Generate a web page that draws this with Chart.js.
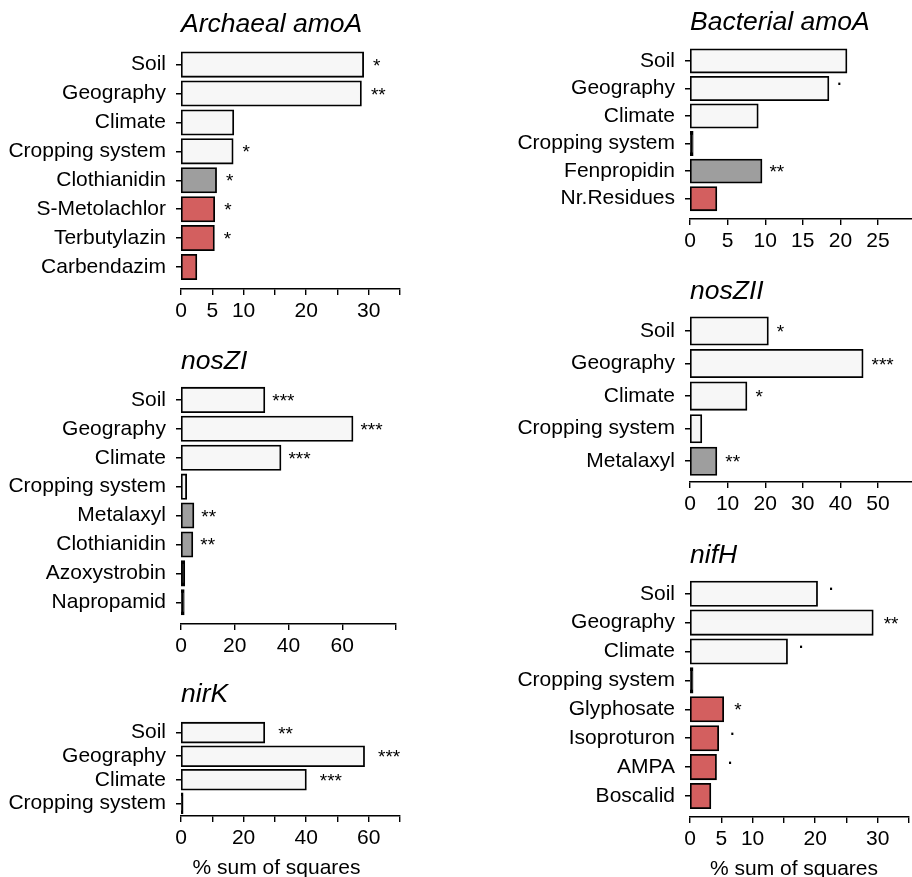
<!DOCTYPE html>
<html><head><meta charset="utf-8">
<script src="https://cdn.jsdelivr.net/npm/chart.js@4.4.1/dist/chart.umd.min.js"></script>
<style>
html,body{margin:0;padding:0;background:#fff;width:912px;height:877px;overflow:hidden;position:relative}
canvas{position:absolute;display:block}
</style></head><body>
<canvas id="c1"></canvas><canvas id="c2"></canvas><canvas id="c3"></canvas>
<canvas id="c4"></canvas><canvas id="c5"></canvas><canvas id="c6"></canvas>
<script>
// ---------- DATA ----------
const aaLabels = ["Soil","Geography","Climate","Cropping system","Clothianidin","S-Metolachlor","Terbutylazin","Carbendazim"];
const aaValues = [29.1, 28.75, 8.35, 8.25, 5.6, 5.3, 5.25, 2.45];
const aaGroups = ["env","env","env","env","grey","red","red","red"];
const aaSig    = ["*","**","","*","*","*","*",""];
const aaTicks  = [0,5,10,20,30];

const baLabels = ["Soil","Geography","Climate","Cropping system","Fenpropidin","Nr.Residues"];
const baValues = [20.8, 18.4, 9.0, 0.35, 9.5, 3.5];
const baGroups = ["env","env","env","env","grey","red"];
const baSig    = ["",".","","","**",""];
const baTicks  = [0,5,10,15,20,25];

const nz1Labels = ["Soil","Geography","Climate","Cropping system","Metalaxyl","Clothianidin","Azoxystrobin","Napropamid"];
const nz1Values = [31.0, 63.8, 37.0, 1.9, 4.6, 4.2, 1.2, 1.0];
const nz1Groups = ["env","env","env","env","grey","grey","grey","red"];
const nz1Sig    = ["***","***","***","","**","**","",""];
const nz1Ticks  = [0,20,40,60];

const nz2Labels = ["Soil","Geography","Climate","Cropping system","Metalaxyl"];
const nz2Values = [20.7, 45.9, 15.0, 3.0, 7.0];
const nz2Groups = ["env","env","env","env","grey"];
const nz2Sig    = ["*","***","*","","**"];
const nz2Ticks  = [0,10,20,30,40,50];

const nkLabels = ["Soil","Geography","Climate","Cropping system"];
const nkValues = [26.6, 58.5, 39.9, 0.5];
const nkGroups = ["env","env","env","env"];
const nkSig    = ["**","***","***",""];
const nkTicks  = [0,20,40,60];

const nhLabels = ["Soil","Geography","Climate","Cropping system","Glyphosate","Isoproturon","AMPA","Boscalid"];
const nhValues = [20.3, 29.2, 15.5, 0.4, 5.3, 4.5, 4.15, 3.25];
const nhGroups = ["env","env","env","env","red","red","red","red"];
const nhSig    = [".","**",".","","*",".",".",""];
const nhTicks  = [0,5,10,20,30];

const axisTitle = "% sum of squares";

// ---------- STYLE / LAYOUT ----------
const FONT = '"Liberation Sans", Arial, Helvetica, sans-serif';
const groupColors = {env:"#f7f7f7", grey:"#9e9e9e", red:"#d35f5f"};
Chart.defaults.font.family = FONT;
Chart.defaults.color = "#000";

const panels = [
  {id:"c1", title:"Archaeal amoA", labels:aaLabels, values:aaValues, groups:aaGroups, sig:aaSig, shown:aaTicks,
   xMax:35, xStep:5, left:0, plotLeft:181, plotRight:400, titleY:25.3, top:43, bottom:289.3, m:0.761, gap:10},
  {id:"c2", title:"Bacterial amoA", labels:baLabels, values:baValues, groups:baGroups, sig:baSig, shown:baTicks,
   xMax:30, xStep:5, left:460, plotLeft:690, plotRight:915.6, titleY:23, top:40.7, bottom:219, m:0.737, gap:8},
  {id:"c3", title:"nosZI", labels:nz1Labels, values:nz1Values, groups:nz1Groups, sig:nz1Sig, shown:nz1Ticks,
   xMax:80, xStep:20, left:0, plotLeft:181, plotRight:396, titleY:362, top:378.3, bottom:624, m:0.75, gap:8},
  {id:"c4", title:"nosZII", labels:nz2Labels, values:nz2Values, groups:nz2Groups, sig:nz2Sig, shown:nz2Ticks,
   xMax:60, xStep:10, left:460, plotLeft:690, plotRight:915.6, titleY:292, top:310.3, bottom:481.7, m:0.637, gap:9},
  {id:"c5", title:"nirK", labels:nkLabels, values:nkValues, groups:nkGroups, sig:nkSig, shown:nkTicks,
   xMax:70, xStep:10, left:0, plotLeft:181, plotRight:400, titleY:695, top:720, bottom:816, m:0.54, gap:14, axisTitle:true, atDx:-14},
  {id:"c6", title:"nifH", labels:nhLabels, values:nhValues, groups:nhGroups, sig:nhSig, shown:nhTicks,
   xMax:35, xStep:5, left:460, plotLeft:690, plotRight:909, titleY:555.5, top:572.3, bottom:816.7, m:0.727, gap:11, axisTitle:true, atDx:-5.5}
];

const sigPlugin = {
  id: "sigmarks",
  afterDatasetsDraw(chart, args, opts) {
    const ctx = chart.ctx;
    const meta = chart.getDatasetMeta(0);
    ctx.save();
    ctx.fillStyle = "#000";
    ctx.textAlign = "left";
    ctx.textBaseline = "alphabetic";
    meta.data.forEach((bar, i) => {
      const s = opts.sig[i];
      if (!s) return;
      const isDot = s === ".";
      ctx.font = (isDot ? "22px " : "19px ") + FONT;
      const mt = ctx.measureText(s);
      const lift = isDot ? 5 : 2.5;
      const base = bar.y - lift + (mt.actualBoundingBoxAscent - mt.actualBoundingBoxDescent) / 2;
      ctx.fillText(s, bar.x + opts.gap, base);
    });
    if (opts.axisTitle) {
      const a = chart.chartArea;
      ctx.font = "21px " + FONT;
      ctx.textAlign = "center";
      ctx.textBaseline = "middle";
      ctx.fillText(axisTitle, (a.left + a.right) / 2 + opts.atDx, a.bottom + 52.5);
    }
    ctx.restore();
  }
};

panels.forEach(p => {
  const n = p.labels.length;
  const pitch = (p.bottom - p.top) / (n - 1 + 2 * p.m);
  const titleLH = 26.5 * 1.2;
  const T = p.titleY - titleLH / 2;
  const H = p.axisTitle ? 75 : 45;
  const padRight = 20;
  const cw = Math.round(p.plotRight - p.left + padRight);
  const ch = Math.round(p.bottom - T + H);
  const cv = document.getElementById(p.id);
  cv.width = cw; cv.height = ch;
  cv.style.width = cw + "px"; cv.style.height = ch + "px";
  cv.style.left = p.left + "px"; cv.style.top = T + "px";

  // very narrow bars render as solid outline colour (the border covers them)
  const fill = c => {
    const i = c.dataIndex;
    const sx = c.chart.scales && c.chart.scales.x;
    const w = sx ? sx.getPixelForValue(p.values[i]) - sx.getPixelForValue(0) : 99;
    return w < 3.6 ? "#000" : groupColors[p.groups[i]];
  };

  new Chart(cv, {
    type: "bar",
    data: {
      datasets: [{
        data: p.values.map((v, i) => ({x: v, y: i})),
        backgroundColor: fill,
        borderColor: "#000",
        borderWidth: 1.8,
        inflateAmount: 0.9,
        borderSkipped: false,
        barThickness: pitch * 0.84
      }]
    },
    options: {
      indexAxis: "y",
      responsive: false,
      animation: false,
      layout: {padding: {left: 0, top: 0, bottom: 0, right: cw - (p.plotRight - p.left)}},
      plugins: {
        legend: {display: false},
        tooltip: {enabled: false},
        title: {
          display: true, text: p.title, align: "start", fullSize: false,
          font: {size: 26.5, style: "italic", weight: "normal", lineHeight: 1.2},
          color: "#000",
          padding: {top: 0, bottom: p.top - T - titleLH}
        },
        sigmarks: {sig: p.sig, gap: p.gap, axisTitle: !!p.axisTitle, atDx: p.atDx || 0}
      },
      scales: {
        y: {
          type: "linear", reverse: true, offset: false,
          min: -p.m, max: n - 1 + p.m,
          afterBuildTicks: s => { s.ticks = p.labels.map((_, i) => ({value: i})); },
          afterFit: s => { s.width = p.plotLeft - p.left; },
          ticks: {autoSkip: false, padding: 10, font: {size: 21}, color: "#000",
                  callback: v => p.labels[v]},
          grid: {offset: false, drawOnChartArea: false, drawTicks: true, tickLength: 5, color: "#000", lineWidth: 1.5},
          border: {display: false}
        },
        x: {
          type: "linear", min: 0, max: p.xMax, offset: false,
          afterBuildTicks: s => { const t = []; for (let v = 0; v <= p.xMax + 1e-9; v += p.xStep) t.push({value: v}); s.ticks = t; },
          afterFit: s => { s.height = H; },
          ticks: {autoSkip: false, maxRotation: 0, minRotation: 0, padding: 4, font: {size: 21}, color: "#000",
                  callback: v => p.shown.includes(v) ? String(v) : ""},
          grid: {drawOnChartArea: false, drawTicks: true, tickLength: 6, color: "#000", lineWidth: 1.4},
          border: {display: true, color: "#000", width: 1.6}
        }
      }
    },
    plugins: [sigPlugin]
  });
});
</script>
</body></html>
